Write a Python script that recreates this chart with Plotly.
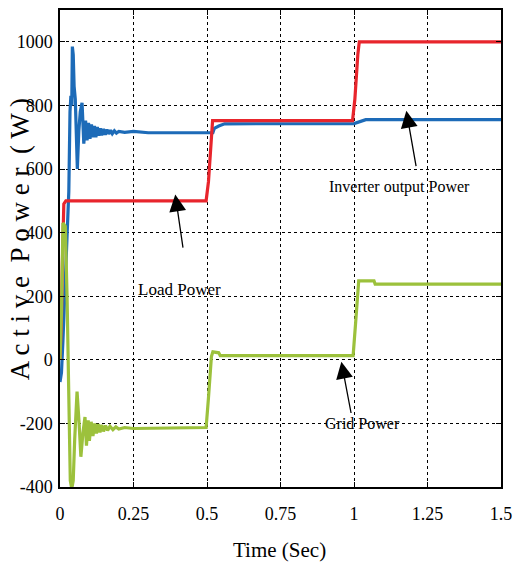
import plotly.graph_objects as go

# ---- data ----
t_load = [0, 0.005, 0.008, 0.010, 0.013, 0.020, 0.497, 0.505, 0.515, 0.519, 0.995, 1.003, 1.013, 1.018, 1.5]
p_load = [0, 130, 300, 440, 490, 500, 500, 560, 700, 752, 752, 820, 960, 1000, 1000]

t_inv = [0, 0.005, 0.010, 0.020, 0.030, 0.034, 0.037, 0.040, 0.042, 0.045, 0.048, 0.052, 0.056, 0.059,
         0.064, 0.069, 0.075, 0.081, 0.087, 0.092, 0.097, 0.102, 0.107, 0.112, 0.117, 0.122, 0.127,
         0.132, 0.137, 0.142, 0.148, 0.154, 0.160, 0.166, 0.172, 0.178, 0.185, 0.192, 0.200, 0.210,
         0.220, 0.250, 0.300, 0.520, 0.525, 0.540, 0.560, 1.000, 1.040, 1.5]
p_inv = [-70, -40, 60, 300, 530, 780, 830, 800, 985, 960, 860, 820, 700, 600,
         720, 780, 808, 680, 752, 690, 745, 695, 740, 700, 735, 700, 732,
         705, 728, 706, 726, 708, 724, 710, 722, 711, 720, 713, 718, 716,
         715, 718, 714, 714, 728, 735, 742, 743, 755, 755]

t_grid = [0, 0.005, 0.010, 0.018, 0.024, 0.030, 0.035, 0.040, 0.045, 0.050, 0.058, 0.065, 0.071,
          0.078, 0.085, 0.090, 0.096, 0.100, 0.106, 0.112, 0.118, 0.124, 0.130, 0.136, 0.142, 0.148,
          0.155, 0.162, 0.170, 0.180, 0.190, 0.200, 0.220, 0.250, 0.497, 0.505, 0.515, 0.520, 0.540,
          0.545, 0.997, 1.005, 1.012, 1.016, 1.068, 1.072, 1.5]
p_grid = [0, 150, 430, 420, 200, -100, -380, -405, -380, -250, -100, -200, -305,
          -230, -180, -270, -190, -255, -195, -240, -200, -232, -202, -228, -205, -225,
          -207, -222, -209, -220, -211, -218, -213, -216, -213, -120, 10, 25, 22,
          13, 13, 110, 220, 248, 248, 238, 238]

x_ticks = [0, 0.25, 0.5, 0.75, 1, 1.25, 1.5]
x_tick_labels = ["0", "0.25", "0.5", "0.75", "1", "1.25", "1.5"]
y_ticks = [-400, -200, 0, 200, 400, 600, 800, 1000]
y_tick_labels = ["-400", "-200", "0", "200", "400", "600", "800", "1000"]

FONT = "Liberation Serif"
TICKFONT = "Times New Roman, Liberation Serif, serif"
fig = go.Figure()
fig.add_trace(go.Scatter(x=t_inv, y=p_inv, mode="lines", line=dict(color="#1d6bb8", width=3.2), name="Inverter output Power"))
fig.add_trace(go.Scatter(x=t_load, y=p_load, mode="lines", line=dict(color="#e8252c", width=3.2), name="Load Power"))
fig.add_trace(go.Scatter(x=t_grid, y=p_grid, mode="lines", line=dict(color="#9cc13c", width=3.2), name="Grid Power"))

axis_common = dict(showline=True, linecolor="black", linewidth=1.5, mirror="ticks", ticks="inside",
                   ticklen=5, tickcolor="black", showgrid=True, gridcolor="black", griddash="dot",
                   gridwidth=1, zeroline=False, tickfont=dict(family=TICKFONT, size=18, color="black"))
fig.update_xaxes(range=[0, 1.5], tickvals=x_ticks, ticktext=x_tick_labels, ticklabelstandoff=10, **axis_common)
fig.update_yaxes(range=[-400, 1100], tickvals=y_ticks, ticktext=y_tick_labels, ticklabelstandoff=2, **axis_common)

ann = []
txt = dict(family=FONT, size=16, color="black")
ann.append(dict(x=1.155, y=542, xref="x", yref="y", text="Inverter output Power", showarrow=False, font=txt))
ann.append(dict(x=0.405, y=222, xref="x", yref="y", text="Load Power", showarrow=False, font=dict(family=FONT, size=17, color="black")))
ann.append(dict(x=1.028, y=-200, xref="x", yref="y", text="Grid Power", showarrow=False, font=txt))
for (tx, ty, ax, ay) in [(1.178, 783, 1.212, 604), (0.392, 520, 0.419, 348), (0.957, -6, 0.991, -172)]:
    ann.append(dict(x=tx, y=ty, xref="x", yref="y", ax=ax, ay=ay, axref="x", ayref="y", text="",
                    showarrow=True, arrowhead=2, arrowsize=2.6, arrowwidth=1.3, arrowcolor="black"))
ann.append(dict(x=0.498, y=-0.1315, xref="paper", yref="paper", text="Time (Sec)", showarrow=False,
                xanchor="center", yanchor="middle", font=dict(family=FONT, size=21, color="black")))
ann.append(dict(x=-0.09, y=0.52, xref="paper", yref="paper", text="A c t i v e  P o w e r  ( W )",
                showarrow=False, textangle=-90, xanchor="center", yanchor="middle",
                font=dict(family=FONT, size=27, color="black")))

fig.update_layout(width=520, height=571, margin=dict(l=60, r=12, t=8, b=84),
                  font=dict(family=FONT, color="black"),
                  plot_bgcolor="white", paper_bgcolor="white", showlegend=False, annotations=ann)
fig.write_html("out.html")
